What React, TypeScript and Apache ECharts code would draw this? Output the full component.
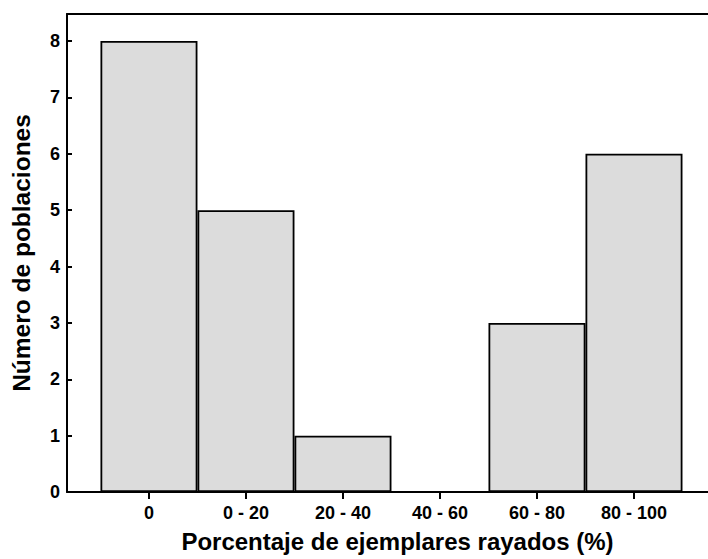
import React, { useEffect, useRef } from "react";
import * as echarts from "echarts";

const categories = ["0", "0 - 20", "20 - 40", "40 - 60", "60 - 80", "80 - 100"];
const counts = [8, 5, 1, 0, 3, 6];
const yTicks = [0, 1, 2, 3, 4, 5, 6, 7, 8];
const xTitle = "Porcentaje de ejemplares rayados (%)";
const yTitle = "Número de poblaciones";

const FONT = "Liberation Sans, Arial, sans-serif";

export default function App() {
  const ref = useRef<HTMLDivElement>(null);
  useEffect(() => {
    if (!ref.current) return;
    const chart = echarts.init(ref.current, undefined, { renderer: "svg" });
    const idx = categories.map((_, i) => i);
    chart.setOption({
      animation: false,
      backgroundColor: "#ffffff",
      grid: { left: 67, right: 0, top: 14, bottom: 67, containLabel: false },
      xAxis: [
        {
          type: "value",
          position: "bottom",
          min: -0.845,
          max: 5.763,
          splitLine: { show: false },
          axisLine: { show: true, onZero: false, lineStyle: { color: "#000", width: 2 } },
          axisTick: { show: true, inside: false, length: 7, lineStyle: { color: "#000", width: 2 }, customValues: idx },
          axisLabel: {
            show: true,
            customValues: idx,
            formatter: (v: number) => categories[Math.round(v)] ?? "",
            color: "#000",
            fontFamily: FONT,
            fontWeight: "bold",
            fontSize: 18,
            margin: 12,
          },
          name: xTitle,
          nameLocation: "middle",
          nameGap: 37,
          nameTextStyle: { color: "#000", fontFamily: FONT, fontWeight: "bold", fontSize: 24, padding: [0, 0, 0, 20] },
        },
        {
          type: "value",
          position: "top",
          min: -0.845,
          max: 5.763,
          splitLine: { show: false },
          axisLine: { show: true, onZero: false, lineStyle: { color: "#000", width: 2 } },
          axisTick: { show: false },
          axisLabel: { show: false },
        },
      ],
      yAxis: {
        type: "value",
        min: 0,
        max: 8.48,
        interval: 1,
        splitLine: { show: false },
        axisLine: { show: true, onZero: false, lineStyle: { color: "#000", width: 2 } },
        axisTick: { show: true, inside: true, length: 5, lineStyle: { color: "#000", width: 2 }, customValues: yTicks },
        axisLabel: {
          customValues: yTicks,
          color: "#000",
          fontFamily: FONT,
          fontWeight: "bold",
          fontSize: 18,
          margin: 7,
        },
        name: yTitle,
        nameLocation: "middle",
        nameGap: 33,
        nameRotate: 90,
        nameTextStyle: { color: "#000", fontFamily: FONT, fontWeight: "bold", fontSize: 24.5 },
      },
      series: [
        {
          type: "bar",
          xAxisIndex: 0,
          barWidth: 97,
          data: counts.map((c, i) => [i, c]),
          itemStyle: { color: "#dcdcdc", borderColor: "#000", borderWidth: 1.8 },
        },
      ],
    });
    return () => chart.dispose();
  }, []);
  return <div ref={ref} style={{ width: 708, height: 559, position: "absolute", left: 0, top: 0 }} />;
}
